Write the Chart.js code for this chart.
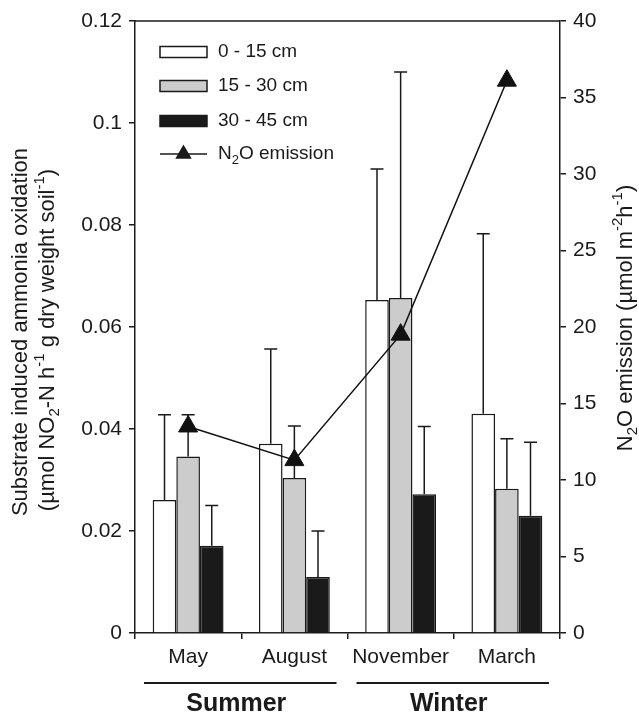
<!DOCTYPE html>
<html>
<head>
<meta charset="utf-8">
<style>
  html, body { margin: 0; padding: 0; background: #fff; }
  #wrap { width: 639px; height: 712px; }
</style>
</head>
<body>
<div id="wrap"><canvas id="soilChart" width="639" height="712"></canvas></div>
<script src="https://cdn.jsdelivr.net/npm/chart.js"></script>
<script>
    // values
    const months = ['May', 'August', 'November', 'March'];
    const depthLabels = ['0 - 15 cm', '15 - 30 cm', '30 - 45 cm'];
    const depth0_15 = [0.0261, 0.0371, 0.0653, 0.0430];
    const depth15_30 = [0.0346, 0.0304, 0.0657, 0.0283];
    const depth30_45 = [0.0171, 0.0110, 0.0272, 0.0230];
    const err0_15 = [0.0167, 0.0186, 0.0257, 0.0353];
    const err15_30 = [0.0082, 0.0102, 0.0443, 0.0098];
    const err30_45 = [0.0079, 0.0090, 0.0133, 0.0144];
    const n2oEmission = [13.5, 11.3, 19.5, 36.1];
    const leftTicks = [0, 0.02, 0.04, 0.06, 0.08, 0.1, 0.12];
    const rightTicks = [0, 5, 10, 15, 20, 25, 30, 35, 40];
    const seasons = ['Summer', 'Winter'];
    const seasonMonths = [[0, 1], [2, 3]];

    const FONT = '"Liberation Sans", Arial, sans-serif';
    const INK = '#1a1a1a';

    // draws text made of [string, 'n' | 'sub' | 'sup'] pieces, centred on (0,0)
    function drawRich(ctx, parts, size, weight) {
        const small = Math.round(size * 0.68);
        let total = 0;
        parts.forEach(p => {
            ctx.font = `${weight || ''} ${p[1] === 'n' ? size : small}px ${FONT}`;
            total += ctx.measureText(p[0]).width;
        });
        let x = -total / 2;
        ctx.textAlign = 'left';
        ctx.textBaseline = 'middle';
        parts.forEach(p => {
            ctx.font = `${weight || ''} ${p[1] === 'n' ? size : small}px ${FONT}`;
            let dy = 0;
            if (p[1] === 'sub') dy = size * 0.32;
            if (p[1] === 'sup') dy = -size * 0.36;
            ctx.fillText(p[0], x, dy);
            x += ctx.measureText(p[0]).width;
        });
    }

    const errorBars = {
        id: 'errorBars',
        afterDatasetDraw(chart, args) {
            const ds = chart.data.datasets[args.index];
            if (!ds.errors) return;
            const ctx = chart.ctx;
            const y = chart.scales.y;
            ctx.save();
            ctx.strokeStyle = INK;
            ctx.lineWidth = 1.5;
            args.meta.data.forEach((bar, i) => {
                const top = y.getPixelForValue(ds.data[i] + ds.errors[i]);
                ctx.beginPath();
                ctx.moveTo(bar.x, bar.y);
                ctx.lineTo(bar.x, top);
                ctx.moveTo(bar.x - 6.5, top);
                ctx.lineTo(bar.x + 6.5, top);
                ctx.stroke();
            });
            ctx.restore();
        }
    };

    const decorations = {
        id: 'decorations',
        afterDraw(chart) {
            const ctx = chart.ctx;
            const a = chart.chartArea;
            const xs = chart.scales.x;
            ctx.save();
            ctx.fillStyle = INK;
            ctx.strokeStyle = INK;

            // top frame line
            ctx.lineWidth = 1.5;
            ctx.beginPath();
            ctx.moveTo(a.left, a.top);
            ctx.lineTo(a.right, a.top);
            ctx.stroke();

            // legend
            const ds = chart.data.datasets;
            const lx = a.left + 25, lw = 47;
            const rows = [a.top + 31, a.top + 65, a.top + 100, a.top + 133];
            ds.forEach((d, i) => {
                const cy = rows[i];
                ctx.lineWidth = 1.5;
                if (d.type === 'line') {
                    ctx.beginPath();
                    ctx.moveTo(lx, cy);
                    ctx.lineTo(lx + lw, cy);
                    ctx.stroke();
                    Chart.helpers.drawPoint(ctx, { pointStyle: 'triangle', radius: 8, borderWidth: 1 }, lx + lw / 2, cy);
                    ctx.fill();
                    ctx.save();
                    ctx.translate(lx + lw + 11, cy);
                    ctx.fillStyle = INK;
                    const parts = [['N', 'n'], ['2', 'sub'], ['O emission', 'n']];
                    let w = 0;
                    parts.forEach(p => {
                        ctx.font = `${p[1] === 'n' ? 19 : 13}px ${FONT}`;
                        w += ctx.measureText(p[0]).width;
                    });
                    ctx.translate(w / 2, 0);
                    drawRich(ctx, parts, 19);
                    ctx.restore();
                } else {
                    ctx.fillStyle = d.backgroundColor;
                    ctx.fillRect(lx, cy - 5.5, lw, 11);
                    ctx.strokeRect(lx, cy - 5.5, lw, 11);
                    ctx.fillStyle = INK;
                    ctx.font = `19px ${FONT}`;
                    ctx.textAlign = 'left';
                    ctx.textBaseline = 'middle';
                    ctx.fillText(d.label, lx + lw + 11, cy);
                }
            });

            // season groups under the month labels
            const half = (xs.getPixelForValue(1) - xs.getPixelForValue(0)) / 2;
            seasons.forEach((s, i) => {
                const x0 = xs.getPixelForValue(seasonMonths[i][0]) - half + 9;
                const x1 = xs.getPixelForValue(seasonMonths[i][1]) + half - 11;
                ctx.lineWidth = 2;
                ctx.beginPath();
                ctx.moveTo(x0, a.bottom + 50);
                ctx.lineTo(x1, a.bottom + 50);
                ctx.stroke();
                ctx.font = `bold 25px ${FONT}`;
                ctx.textAlign = 'center';
                ctx.textBaseline = 'middle';
                ctx.fillText(s, (x0 + x1) / 2 - 4, a.bottom + 71);
            });

            // left axis title (two lines)
            ctx.save();
            ctx.translate(21, 332);
            ctx.rotate(-Math.PI / 2);
            drawRich(ctx, [['Substrate induced ammonia oxidation', 'n']], 22);
            ctx.restore();
            ctx.save();
            ctx.translate(48, 340);
            ctx.rotate(-Math.PI / 2);
            drawRich(ctx, [['(\u00b5mol NO', 'n'], ['2', 'sub'], ['-N h', 'n'], ['-1', 'sup'],
                           [' g dry weight soil', 'n'], ['-1', 'sup'], [')', 'n']], 22);
            ctx.restore();

            // right axis title
            ctx.save();
            ctx.translate(626, 318);
            ctx.rotate(-Math.PI / 2);
            drawRich(ctx, [['N', 'n'], ['2', 'sub'], ['O emission (\u00b5mol m', 'n'], ['-2', 'sup'],
                           ['h', 'n'], ['-1', 'sup'], [')', 'n']], 22);
            ctx.restore();

            ctx.restore();
        }
    };

    const axisGrid = { drawOnChartArea: false, color: INK, lineWidth: 1.5, tickLength: 6 };
    const tickFont = { family: FONT, size: 21 };

    const ctx = document.getElementById('soilChart').getContext('2d');
    const soilChart = new Chart(ctx, {
        type: 'bar',
        data: {
            labels: months,
            datasets: [
                { label: depthLabels[0], data: depth0_15, errors: err0_15, backgroundColor: '#ffffff',
                  borderColor: INK, borderWidth: 1.5, yAxisID: 'y', order: 1 },
                { label: depthLabels[1], data: depth15_30, errors: err15_30, backgroundColor: '#cccccc',
                  borderColor: INK, borderWidth: 1.5, yAxisID: 'y', order: 1 },
                { label: depthLabels[2], data: depth30_45, errors: err30_45, backgroundColor: '#1a1a1a',
                  borderColor: INK, borderWidth: 1.5, yAxisID: 'y', order: 1 },
                { type: 'line', label: 'N2O emission', data: n2oEmission, yAxisID: 'y1', order: 0,
                  borderColor: '#111', borderWidth: 1.5, pointStyle: 'triangle', pointRadius: 11,
                  pointBackgroundColor: '#111', pointBorderColor: '#111', pointBorderWidth: 1 }
            ]
        },
        options: {
            responsive: false,
            animation: false,
            devicePixelRatio: 1,
            categoryPercentage: 0.667,
            barPercentage: 1.0,
            layout: { padding: { top: 21, left: 0, right: 0, bottom: 0 } },
            plugins: { legend: { display: false }, tooltip: { enabled: false } },
            scales: {
                x: {
                    grid: { ...axisGrid, offset: true },
                    border: { color: INK, width: 1.5 },
                    ticks: { font: tickFont, color: INK, padding: 6 },
                    afterFit: s => { s.height = 79; }
                },
                y: {
                    position: 'left',
                    min: 0, max: 0.12,
                    grid: axisGrid,
                    border: { color: INK, width: 1.5 },
                    afterBuildTicks: s => { s.ticks = leftTicks.map(v => ({ value: v })); },
                    ticks: { font: tickFont, color: INK, padding: 7, callback: v => String(+v.toFixed(2)) },
                    afterFit: s => { s.width = 135; }
                },
                y1: {
                    position: 'right',
                    min: 0, max: 40,
                    grid: axisGrid,
                    border: { color: INK, width: 1.5 },
                    afterBuildTicks: s => { s.ticks = rightTicks.map(v => ({ value: v })); },
                    ticks: { font: tickFont, color: INK, padding: 7 },
                    afterFit: s => { s.width = 79; }
                }
            }
        },
        plugins: [errorBars, decorations]
    });
</script>
</body>
</html>
